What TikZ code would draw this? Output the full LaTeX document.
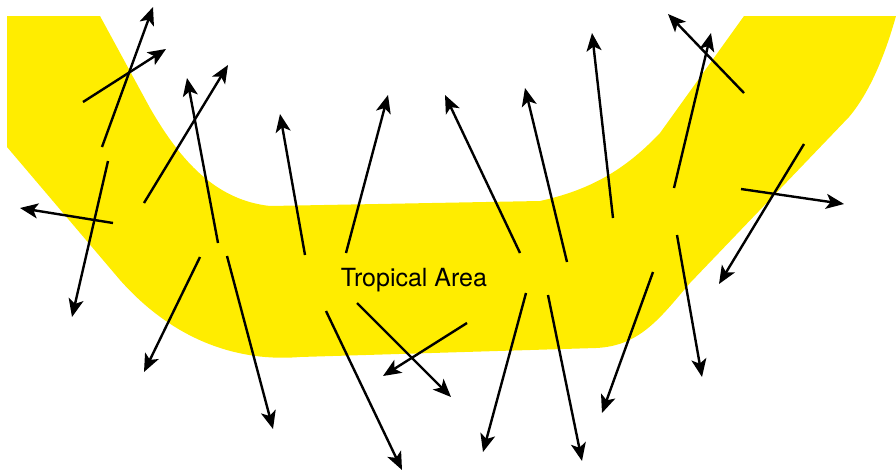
\documentclass[tikz,border=0pt]{standalone}
\usepackage{fontspec}
\setmainfont{TeX Gyre Heros}
\usetikzlibrary{arrows.meta}
\definecolor{bandyellow}{RGB}{255,237,0}
\tikzset{
  flow/.style={line width=2.4pt, -{Stealth[length=18pt,width=15pt,inset=4.5pt]}},
  label/.style={font=\fontsize{25}{29}\selectfont, inner sep=0pt}
}
\begin{document}
\begin{tikzpicture}[x=1pt,y=-1pt]
\useasboundingbox (0,0) rectangle (896,471);
% yellow band
\fill[bandyellow] (7,16) -- (100,16) -- (150,108)
  .. controls (180,160) and (215,200) .. (270,206)
  -- (540,201) .. controls (590,190) and (625,170) .. (660,133)
  -- (744,16) -- (896,16)
  .. controls (885,55) and (870,92) .. (849,117)
  -- (690,283) .. controls (660,318) and (640,346) .. (596,348)
  -- (300,357) .. controls (240,362) and (175,342) .. (120,280)
  -- (7,147) -- cycle;
% label
\node[label, anchor=base] (trop) at (414,286) {Tropical Area};
% arrow end points
\coordinate (a1s) at (102,147);  \coordinate (a1e) at (153,7);
\coordinate (a2s) at (83,102);   \coordinate (a2e) at (166,49);
\coordinate (a3s) at (144,203);  \coordinate (a3e) at (228,65);
\coordinate (a4s) at (218,243);  \coordinate (a4e) at (187,78);
\coordinate (a5s) at (305,255);  \coordinate (a5e) at (280,114);
\coordinate (a6s) at (113,223);  \coordinate (a6e) at (20,208);
\coordinate (a7s) at (108,161);  \coordinate (a7e) at (72,317);
\coordinate (a8s) at (346,253);  \coordinate (a8e) at (388,95);
\coordinate (a9s) at (520,253);  \coordinate (a9e) at (445,95);
\coordinate (a10s) at (567,262); \coordinate (a10e) at (525,88);
\coordinate (a11s) at (613,218); \coordinate (a11e) at (592,33);
\coordinate (a12s) at (744,93);  \coordinate (a12e) at (668,14);
\coordinate (a13s) at (674,188); \coordinate (a13e) at (711,33);
\coordinate (a14s) at (741,189); \coordinate (a14e) at (844,204);
\coordinate (a15s) at (804,144); \coordinate (a15e) at (719,284);
\coordinate (a16s) at (677,235); \coordinate (a16e) at (702,377);
\coordinate (a17s) at (653,272); \coordinate (a17e) at (602,413);
\coordinate (a18s) at (200,257); \coordinate (a18e) at (144,372);
\coordinate (a19s) at (227,256); \coordinate (a19e) at (273,429);
\coordinate (a20s) at (326,311); \coordinate (a20e) at (402,470);
\coordinate (a21s) at (357,303); \coordinate (a21e) at (451,397);
\coordinate (a22s) at (467,323); \coordinate (a22e) at (383,376);
\coordinate (a23s) at (526,293); \coordinate (a23e) at (483,452);
\coordinate (a24s) at (548,295); \coordinate (a24e) at (582,461);
% arrows
\foreach \i in {1,...,24} {
  \draw[flow] (a\i s) -- (a\i e);
}
\end{tikzpicture}
\end{document}
